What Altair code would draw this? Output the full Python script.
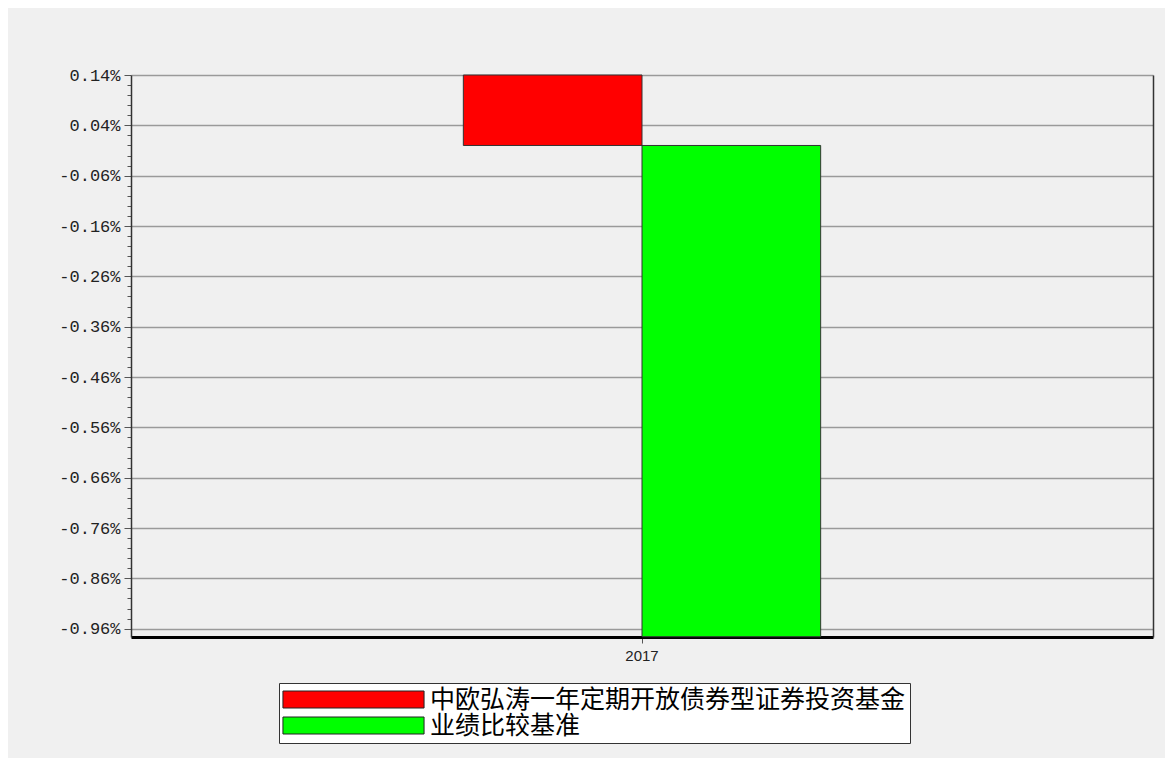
import altair as alt
import pandas as pd

# ---- data ----
years = ["2017", "2017"]
series_names = ["中欧弘涛一年定期开放债券型证券投资基金", "业绩比较基准"]
values = [0.0014, -0.00976]          # 0.14 %, -0.976 %
series_colors = ["#ff0000", "#00ff00"]

# y axis ticks: major labelled every 0.10 %, minor every 0.02 %
y_ticks = [0.0014, 0.0012, 0.0010, 0.0008, 0.0006, 0.0004, 0.0002, 0.0000,
           -0.0002, -0.0004, -0.0006, -0.0008, -0.0010, -0.0012, -0.0014,
           -0.0016, -0.0018, -0.0020, -0.0022, -0.0024, -0.0026, -0.0028,
           -0.0030, -0.0032, -0.0034, -0.0036, -0.0038, -0.0040, -0.0042,
           -0.0044, -0.0046, -0.0048, -0.0050, -0.0052, -0.0054, -0.0056,
           -0.0058, -0.0060, -0.0062, -0.0064, -0.0066, -0.0068, -0.0070,
           -0.0072, -0.0074, -0.0076, -0.0078, -0.0080, -0.0082, -0.0084,
           -0.0086, -0.0088, -0.0090, -0.0092, -0.0094, -0.0096]
y_domain = [-0.009765, 0.0014]

df = pd.DataFrame({"year": years, "series": series_names, "value": values})

major_test = "(round(datum.value*10000)+1006) % 10 == 0"

y_axis = alt.Axis(
    values=y_ticks,
    title=None,
    labelExpr=f"{major_test} ? replace(format(datum.value, '.2%'), '\u2212', '-') : ''",
    labelFont="Liberation Mono",
    labelFontSize=17,
    labelColor="#222222",
    labelPadding=4,
    tickSize={"condition": {"test": major_test, "value": 7}, "value": 4},
    tickColor="#555555",
    tickWidth=1,
    grid=True,
    gridColor="#9a9a9a",
    gridWidth=1.5,
    gridOpacity={"condition": {"test": major_test, "value": 1}, "value": 0},
    domainColor="#333333",
    domainWidth=1.5,
)

x_axis = alt.Axis(
    title=None,
    labelAngle=0,
    labelFont="Liberation Sans",
    labelFontSize=15,
    labelColor="#222222",
    labelPadding=5,
    tickSize=6,
    tickColor="#555555",
    domainColor="#000000",
    domainWidth=3,
    grid=False,
)

base = alt.Chart(df)

bars = base.mark_bar(stroke="#333333", strokeWidth=1).encode(
    x=alt.X("year:N", axis=x_axis,
            scale=alt.Scale(paddingInner=0, paddingOuter=0.93)),
    xOffset=alt.XOffset("series:N", sort=series_names,
                        scale=alt.Scale(paddingInner=0, paddingOuter=0)),
    y=alt.Y("value:Q", axis=y_axis, scale=alt.Scale(domain=y_domain, nice=False, zero=True)),
    color=alt.Color(
        "series:N",
        sort=series_names,
        scale=alt.Scale(domain=series_names, range=series_colors),
        legend=alt.Legend(
            orient="none",
            legendX=148,
            legendY=608,
            title=None,
            direction="vertical",
            symbolType="M-8.3,-1H8.3V1H-8.3Z",
            symbolSize=289,
            symbolOffset=58,
            symbolStrokeColor="#222222",
            symbolStrokeWidth=1,
            symbolOpacity=1,
            labelFont="Noto Sans CJK SC",
            labelFontSize=25,
            labelColor="#000000",
            labelOffset=64,
            labelLimit=800,
            rowPadding=0,
            padding=4,
            strokeColor="#333333",
            fillColor="#ffffff",
        ),
    ),
)

border = base.mark_rule(opacity=0).encode(
    y=alt.Y("value:Q",
            axis=alt.Axis(orient="right", labels=False, ticks=False, grid=False,
                          title=None, domainColor="#333333", domainWidth=1.5)),
)

chart = (
    alt.layer(bars, border)
    .resolve_axis(y="independent")
    .properties(
        width=1022,
        height=562,
        padding={"left": 123, "top": 67, "right": 12, "bottom": 121},
        autosize=alt.AutoSizeParams(type="none"),
        background="#f0f0f0",
    )
    .configure_view(stroke=None)
)

chart.save("out.html", embed_options={"renderer": "svg", "actions": False})
